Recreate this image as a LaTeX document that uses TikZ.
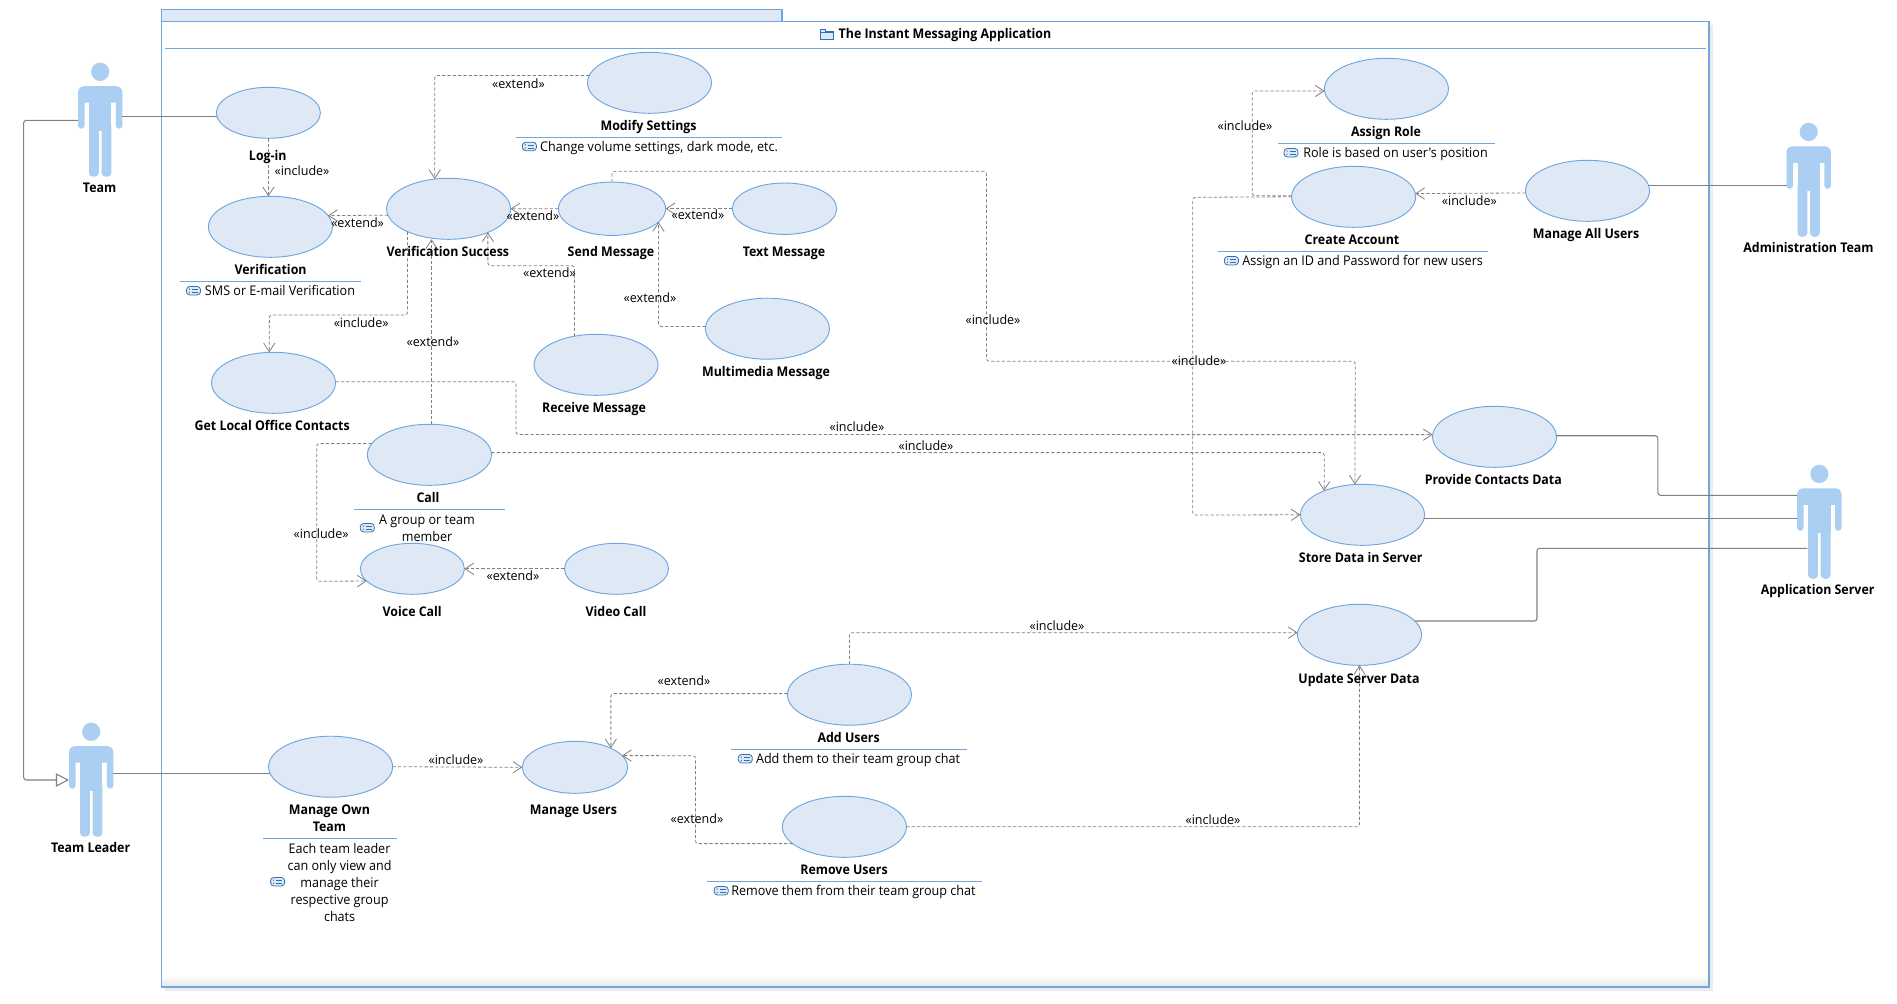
\documentclass[tikz,border=0pt]{standalone}
\usepackage{fontspec}
\usetikzlibrary{shapes.geometric,arrows.meta,calc}
\newfontfamily\umlfont[FakeStretch=0.945,BoldFeatures={FakeStretch=0.93}]{Open Sans}
\newfontfamily\umlrel[FakeStretch=0.98]{Open Sans}
\definecolor{umlblue}{HTML}{6FA6E0}
\definecolor{umlfill}{HTML}{DFE9F5}
\definecolor{actorblue}{HTML}{ABCFF3}
\definecolor{linegray}{HTML}{808080}
\definecolor{iconblue}{HTML}{2F6FB5}
\tikzset{
  x=0.75pt,y=-0.75pt,
  usecase/.style={shape=ellipse,draw=umlblue,fill=umlfill,line width=0.7pt,inner sep=0pt,outer sep=0pt},
  assoc/.style={draw=linegray,line width=0.8pt,rounded corners=2pt},
  depend/.style={draw=linegray,line width=0.6pt,dash pattern=on 2.4pt off 1.6pt,rounded corners=2pt,-{Straight Barb[length=6.5pt,width=8.5pt]}},
  gen/.style={draw=linegray,line width=0.8pt,rounded corners=2pt,-{Triangle[open,length=9.8pt,width=10pt,fill=white]}},
  rulelbl/.style={draw=umlblue,line width=0.7pt},
  txt/.style={font=\umlfont\fontsize{10pt}{12.75pt}\selectfont,inner sep=0pt,text=black,yshift=-0.7pt},
  oneline/.style={txt,text height=7.5pt,text depth=2.5pt},
  ucname/.style={oneline,font=\umlfont\bfseries\fontsize{10pt}{12.75pt}\selectfont},
  mname/.style={txt,align=center,font=\umlfont\bfseries\fontsize{10pt}{12.75pt}\selectfont},
  rel/.style={oneline,font=\umlrel\fontsize{9.6pt}{10pt}\selectfont},
  actorbox/.style={inner sep=0pt,outer sep=0pt,minimum width=33.3pt,minimum height=85.5pt},
  actor/.pic={
    \begin{scope}[shift={(0,-57)}]
      \fill[actorblue] (0,9.1) ellipse [x radius=6.8pt,y radius=6.9pt];
      \fill[actorblue,rounded corners=2.4pt] (-22.2,66) rectangle (-15.7,30);
      \fill[actorblue,rounded corners=2.4pt] (15.7,66) rectangle (22.2,30);
      \fill[actorblue,rounded corners=4.5pt] (-22.2,40) rectangle (22.2,23.5);
      \fill[actorblue] (-15.7,39) rectangle (15.7,30);
      \fill[actorblue] (-11.2,30) rectangle (11.2,68);
      \fill[actorblue,rounded corners=3pt] (-11.2,60) rectangle (-1.4,114);
      \fill[actorblue,rounded corners=3pt] (1.4,60) rectangle (11.2,114);
    \end{scope}
  },
  noteicon/.pic={
    \draw[iconblue,fill=umlfill,line width=0.6pt,rounded corners=2.4pt] (-7,-4.2) rectangle (7,4.2);
    \fill[iconblue] (-4,-1.6) circle (0.5pt) (-4,1.6) circle (0.5pt);
    \draw[iconblue,line width=0.5pt] (-1.5,-1.6) -- (4.5,-1.6) (-1.5,1.6) -- (4.5,1.6);
  },
  foldericon/.pic={
    \draw[iconblue,fill=umlfill,line width=0.6pt] (-6.5,-5) -- (-1,-5) -- (-1,-3) -- (6.5,-3) -- (6.5,5.5) -- (-6.5,5.5) -- cycle;
    \draw[iconblue,line width=0.6pt] (-6.5,-2) -- (6.5,-2);
  },
}
\newcommand{\ucase}[5]{\node[usecase,minimum width={#4*1.5pt},minimum height={#5*1.5pt}] (#1) at (#2,#3) {};}
\newcommand{\person}[3]{\node[actorbox] (#1) at (#2,#3) {}; \pic at (#1) {actor};}
\begin{document}
\begin{tikzpicture}
\useasboundingbox (0,0) rectangle (1897,1003);
\fill[white] (0,0) rectangle (1897,1003);

% package frame
\fill[black!8] (165,25) rectangle (1713,991);
\fill[white] (162,21.3) rectangle (1709,987);
\shade[top color=white,bottom color=black!10] (162,975) rectangle (1709,987);
\draw[umlblue,fill=umlfill,line width=0.8pt] (161.5,9.3) rectangle (782,21.3);
\draw[umlblue,line width=0.9pt] (161.5,21.3) rectangle (1709,987);
\draw[umlblue,line width=0.8pt] (165,48.3) -- (1706,48.3);

% actors
\person{team}{100.2}{119.7}
\person{leader}{91.2}{779.7}
\person{admin}{1808.7}{179.8}
\person{appserver}{1819.3}{521.8}

% use cases
\ucase{login}{268.4}{112.8}{52}{25.5}
\ucase{verification}{270.4}{226.8}{62}{30.5}
\ucase{success}{448.6}{208.8}{62}{30.5}
\ucase{modify}{649.5}{82.8}{62}{30.5}
\ucase{send}{612}{208.7}{53.6}{26.7}
\ucase{text}{784.5}{208.7}{52.2}{25.7}
\ucase{multimedia}{767.4}{328.7}{62}{30.5}
\ucase{receive}{596}{364.8}{62}{30.5}
\ucase{local}{273.5}{382.8}{62}{30.5}
\ucase{call}{429.4}{454.8}{62}{30.5}
\ucase{voice}{412.4}{568.8}{52}{25.5}
\ucase{video}{616.5}{568.8}{52}{25.5}
\ucase{own}{330.6}{766.7}{62}{30.5}
\ucase{manage}{575}{767.3}{52.7}{26}
\ucase{add}{849.4}{694.7}{62}{30.5}
\ucase{remove}{844.4}{826.8}{62}{30.5}
\ucase{assign}{1386.4}{88.8}{62}{30.5}
\ucase{create}{1353.6}{196.8}{62}{30.5}
\ucase{manageall}{1587.5}{190.8}{62}{30.5}
\ucase{provide}{1494.5}{436.8}{62}{30.5}
\ucase{store}{1362.5}{514.8}{62}{30.5}
\ucase{update}{1359.5}{634.8}{62}{30.5}

% bend points
\coordinate (b1) at (516,434.5);
\coordinate (b2) at (986.5,171.3);
\coordinate (b3) at (986.5,361.3);
\coordinate (b4) at (1355.2,361.3);
\coordinate (b5) at (1192.7,197.3);
\coordinate (b6) at (1192.7,515);
\coordinate (b7) at (1252.2,91);
\coordinate (b8) at (695.5,755.7);
\coordinate (b9) at (316.7,581.3);
\coordinate (b10) at (23.7,780);
\coordinate (b11) at (269.4,315);
\coordinate (b12) at (1657.8,495.3);
\coordinate (b13) at (1537,548.3);

% associations
\draw[assoc] (team.east |- login.184) -- (login.184);
\draw[assoc] (leader.east |- own.186) -- (own.186);
\draw[assoc] (manageall.5) -- (admin.west |- manageall.5);
\draw[assoc] (provide.1) -| (b12) -- (appserver.west |- b12);
\draw[assoc] (store.357) -- (appserver.west |- store.357);
\draw[assoc] (update.14.5) -| (b13) -- (1807.4,548.3);
\draw[gen] (team.west |- 0,120.3) -| (b10) -- (leader.west |- b10);

% dependencies
\draw[depend] (login.south) -- (login.south |- verification.north);
\draw[depend] (success.186) -- (verification.11);
\draw[depend] (modify.173) -| (success.115);
\draw[depend] (send.west) -- (success.east);
\draw[depend] (text.west) -- (send.east);
\draw[depend] (multimedia.178) -| (send.344);
\draw[depend] (receive.127) |- (success.329 |- 0,265.7) -- (success.329);
\draw[depend] (success.209) |- (b11) -- (local.98);
\draw[depend] (call.86) -- (call.86 |- success.south);
\draw[depend] (call.169) -| (b9) -- (voice.195);
\draw[depend] (video.west) -- (voice.east);
\draw[depend] (call.2) -| (store.148);
\draw[depend] (local.1) -| (b1) -- (provide.178);
\draw[depend] (send.north) |- (b2) -- (b3) -- (b4) -- (store.104);
\draw[depend] (create.west) -- (b5) -- (b6) -- (store.west);
\draw[depend] (create.179) -| (b7) -- (assign.182);
\draw[depend] (manageall.182) -- (create.3);
\draw[depend] (own.east) -- (manage.west);
\draw[depend] (add.179) -| (manage.28);
\draw[depend] (remove.198) -| (b8) -- (manage.14);
\draw[depend] (add.north) |- (update.178);
\draw[depend] (remove.east) -| (update.south);

% title
\pic at (826.5,34) {foldericon};
\node[ucname] (title) at (945,34.3) {The Instant Messaging Application};

% names
\node[ucname] (nteam) at (99.6,188) {Team};
\node[ucname] (nleader) at (90.6,848.3) {Team Leader};
\node[ucname] (nadmin) at (1808.5,248.3) {Administration Team};
\node[ucname] (napp) at (1817.6,590.3) {Application Server};
\node[ucname] (nlogin) at (267.8,156.7) {Log-in};
\node[ucname] (nverif) at (270.6,270.3) {Verification};
\node[ucname] (nsuccess) at (447.8,252.3) {Verification Success};
\node[ucname] (nmodify) at (648.6,126.3) {Modify Settings};
\node[ucname] (nsend) at (611,252.3) {Send Message};
\node[ucname] (ntext) at (784,252.3) {Text Message};
\node[ucname] (nmulti) at (766,372.3) {Multimedia Message};
\node[ucname] (nreceive) at (594,408.3) {Receive Message};
\node[ucname] (nlocal) at (272.2,426.3) {Get Local Office Contacts};
\node[ucname] (ncall) at (428,498.3) {Call};
\node[ucname] (nvoice) at (412.2,612.3) {Voice Call};
\node[ucname] (nvideo) at (616,612.3) {Video Call};
\node[mname] (nown) at (329.4,817.6) {Manage Own\\Team};
\node[ucname] (nmanage) at (573.5,810.3) {Manage Users};
\node[ucname] (nadd) at (848.6,738.3) {Add Users};
\node[ucname] (nremove) at (844,870.3) {Remove Users};
\node[ucname] (nassign) at (1386,132.3) {Assign Role};
\node[ucname] (ncreate) at (1352,240.3) {Create Account};
\node[ucname] (nall) at (1586,234.3) {Manage All Users};
\node[ucname] (nprovide) at (1493.3,480.3) {Provide Contacts Data};
\node[ucname] (nstore) at (1360.7,558.3) {Store Data in Server};
\node[ucname] (nupdate) at (1359,678.8) {Update Server Data};

% documentation rules
\draw[rulelbl] (179.6,281.3) -- (361.2,281.3);
\draw[rulelbl] (515.5,137) -- (782,137);
\draw[rulelbl] (353.5,509.3) -- (504.5,509.3);
\draw[rulelbl] (263.3,838.3) -- (396.7,838.3);
\draw[rulelbl] (731.4,749.3) -- (966.5,749.3);
\draw[rulelbl] (707.3,881.3) -- (981.6,881.3);
\draw[rulelbl] (1217.6,251.3) -- (1488.2,251.3);
\draw[rulelbl] (1278,143.7) -- (1495,143.7);

% documentation text
\pic at (193.5,290.7) {noteicon};
\node[oneline] (dverif) at (280,291.7) {SMS or E-mail Verification};
\pic at (529.4,146.5) {noteicon};
\node[oneline] (dmodify) at (659,147.7) {Change volume settings, dark mode, etc.};
\pic at (367.3,527.7) {noteicon};
\node[txt,align=center] (dcall) at (427,527.3) {A group or team\\member};
\pic at (277.6,881.7) {noteicon};
\node[txt,align=center] (down) at (339.6,881.5) {Each team leader\\can only view and\\manage their\\respective group\\chats};
\pic at (745.3,758.7) {noteicon};
\node[oneline] (dadd) at (858,759.7) {Add them to their team group chat};
\pic at (721.2,890.7) {noteicon};
\node[oneline] (dremove) at (853.5,891.7) {Remove them from their team group chat};
\pic at (1231.4,260.7) {noteicon};
\node[oneline] (dcreate) at (1362.6,261.7) {Assign an ID and Password for new users};
\pic at (1291,152.7) {noteicon};
\node[oneline] (dassign) at (1395.5,153.7) {Role is based on user's position};

% stereotypes
\node[rel] (r1) at (302,171.3) {«include»};
\node[rel] (r2) at (357.6,223.3) {«extend»};
\node[rel] (r3) at (533,216.7) {«extend»};
\node[rel] (r4) at (698,215.7) {«extend»};
\node[rel] (r5) at (518.4,84.7) {«extend»};
\node[rel] (r6) at (549.4,273.7) {«extend»};
\node[rel] (r7) at (650,298.3) {«extend»};
\node[rel] (r8) at (361.2,323.3) {«include»};
\node[rel] (r9) at (433,342.7) {«extend»};
\node[rel] (r10) at (321.2,534.3) {«include»};
\node[rel] (r11) at (513,576.7) {«extend»};
\node[rel] (r12) at (456,760.3) {«include»};
\node[rel] (r13) at (684,681) {«extend»};
\node[rel] (r14) at (697,819.3) {«extend»};
\node[rel] (r15) at (1213,820.3) {«include»};
\node[rel] (r16) at (1057,626.7) {«include»};
\node[rel] (r17) at (1469.3,201.3) {«include»};
\node[rel] (r18) at (1245,126.7) {«include»};
\node[rel] (r19) at (993,320.7) {«include»};
\node[rel] (r20) at (1199,361.3) {«include»};
\node[rel] (r21) at (857,427.3) {«include»};
\node[rel] (r22) at (926,446.3) {«include»};
\end{tikzpicture}
\end{document}
